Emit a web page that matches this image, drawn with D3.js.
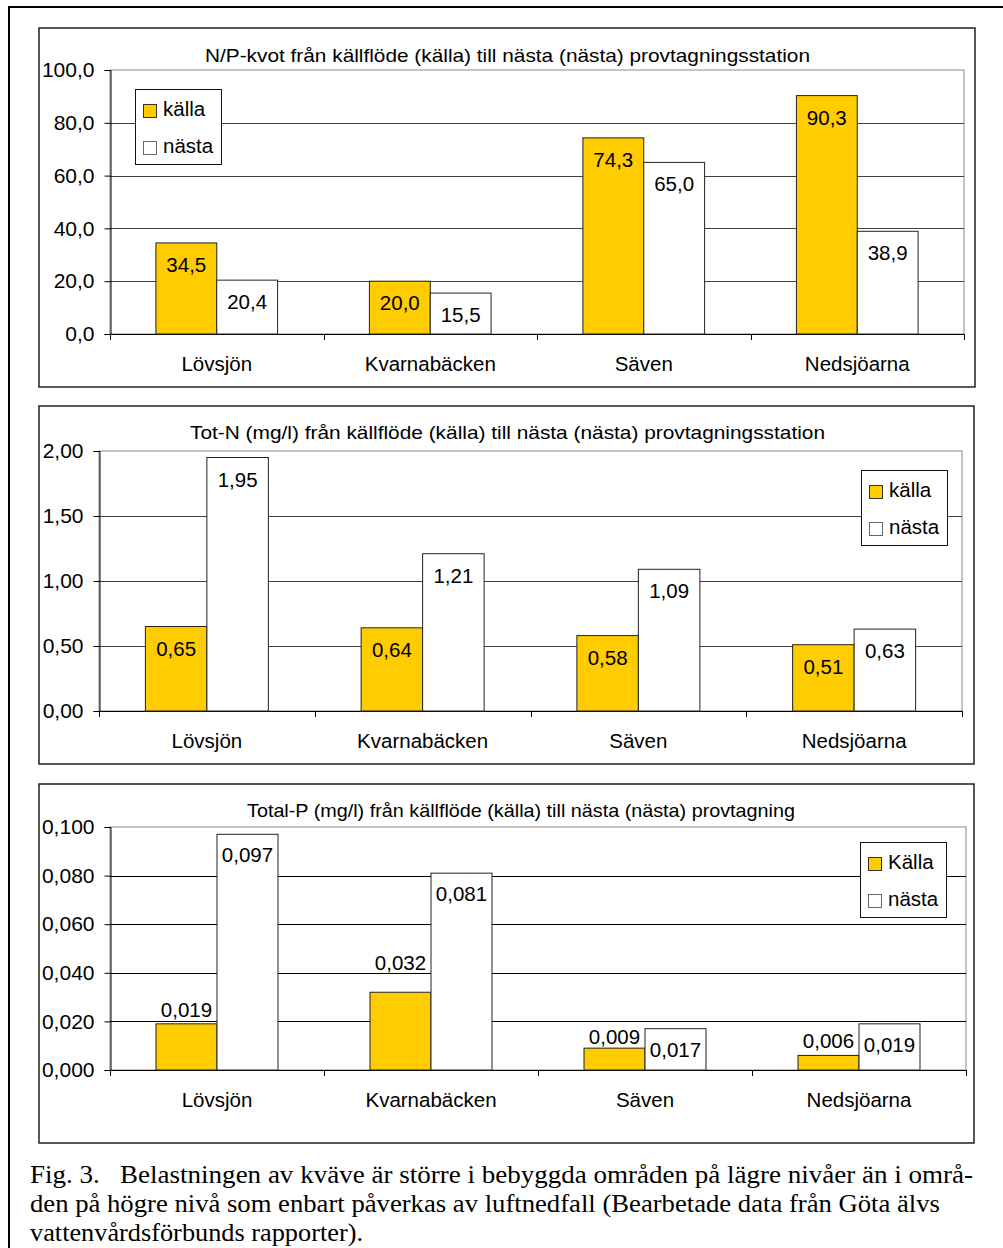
<!DOCTYPE html>
<html>
<head>
<meta charset="utf-8">
<script src="https://cdn.jsdelivr.net/npm/d3@7"></script>
<style>
  html, body { margin: 0; padding: 0; background: #fff; }
  svg { display: block; }
  text { font-family: "Liberation Sans", Arial, sans-serif; fill: #000; }
  .cap { font-family: "Liberation Serif", "Times New Roman", serif; }
</style>
</head>
<body>
<svg id="fig" width="1003" height="1248"></svg>
<script>
// ---------------- data ----------------
const categories = ["Lövsjön", "Kvarnabäcken", "Säven", "Nedsjöarna"];
const seriesNames = ["källa", "nästa"];
const seriesNamesP = ["Källa", "nästa"];

const npKalla = [34.5, 20.0, 74.3, 90.3];
const npNasta = [20.4, 15.5, 65.0, 38.9];
const npTicks = [0, 20, 40, 60, 80, 100];

const totNKalla = [0.65, 0.64, 0.58, 0.51];
const totNNasta = [1.95, 1.21, 1.09, 0.63];
const totNTicks = [0, 0.5, 1.0, 1.5, 2.0];

const totPKalla = [0.019, 0.032, 0.009, 0.006];
const totPNasta = [0.097, 0.081, 0.017, 0.019];
const totPTicks = [0, 0.02, 0.04, 0.06, 0.08, 0.10];

const titles = [
  "N/P-kvot från källflöde (källa) till nästa (nästa) provtagningsstation",
  "Tot-N (mg/l) från källflöde (källa) till nästa (nästa) provtagningsstation",
  "Total-P (mg/l) från källflöde (källa) till nästa (nästa) provtagning"
];
const captionLines = [
  "Fig. 3.   Belastningen av kväve är större i bebyggda områden på lägre nivåer än i områ-",
  "den på högre nivå som enbart påverkas av luftnedfall (Bearbetade data från Göta älvs",
  "vattenvårdsförbunds rapporter)."
];

// ---------------- drawing ----------------
const svg = d3.select("#fig");
const sv = d3.formatLocale({ decimal: ",", thousands: " ", grouping: [3], currency: ["", ""] });
const KALLA = "#FFCC00";

svg.append("rect").attr("x", 0).attr("y", 0).attr("width", 1003).attr("height", 1248).attr("fill", "#fff");
// outer page border
svg.append("rect").attr("x", 9).attr("y", 7).attr("width", 1010).attr("height", 1260)
  .attr("fill", "none").attr("stroke", "#000").attr("stroke-width", 2);

const charts = [
  { frame: [39, 28, 975, 387], plot: [110, 70, 964, 334], ticks: npTicks, max: 100, fmt: ",.1f",
    kalla: npKalla, nasta: npNasta, title: titles[0], titleX: 507.5, titleY: 62, titleW: 605,
    legend: [135, 89], names: seriesNames, grid: "#404040", outsideKalla: false, lift: null },
  { frame: [39, 406, 974, 764], plot: [99, 451, 962, 711], ticks: totNTicks, max: 2.0, fmt: ",.2f",
    kalla: totNKalla, nasta: totNNasta, title: titles[1], titleX: 507.5, titleY: 439, titleW: 635,
    legend: [861, 470], names: seriesNames, grid: "#404040", outsideKalla: false, lift: null },
  { frame: [39, 784, 974, 1143], plot: [110, 827, 966, 1070], ticks: totPTicks, max: 0.10, fmt: ",.3f",
    kalla: totPKalla, nasta: totPNasta, title: titles[2], titleX: 521, titleY: 817, titleW: 548,
    legend: [860, 842], names: seriesNamesP, grid: "#000", outsideKalla: true, lift: [7, 22, 4, 7] }
];

charts.forEach(c => {
  const g = svg.append("g");
  const [fx0, fy0, fx1, fy1] = c.frame;
  const [px0, py0, px1, py1] = c.plot;

  g.append("rect").attr("x", fx0).attr("y", fy0).attr("width", fx1 - fx0).attr("height", fy1 - fy0)
    .attr("fill", "#fff").attr("stroke", "#111").attr("stroke-width", 1.4);

  const x = d3.scaleBand().domain(categories).range([px0, px1]).paddingInner(0).paddingOuter(0);
  const y = d3.scaleLinear().domain([0, c.max]).range([py1, py0]);
  const bw = x.bandwidth();
  const groupW = bw * 0.57;
  const xs = d3.scaleBand().domain(["k", "n"]).range([0, groupW]);
  const fmt = sv.format(c.fmt);

  // plot area border (top/right gray)
  g.append("rect").attr("x", px0).attr("y", py0).attr("width", px1 - px0).attr("height", py1 - py0)
    .attr("fill", "none").attr("stroke", "#8a8a8a").attr("stroke-width", 1);

  // gridlines
  g.append("g").selectAll("line").data(c.ticks.filter(t => t > 0 && t < c.max)).join("line")
    .attr("x1", px0).attr("x2", px1).attr("y1", d => Math.round(y(d)) + 0.5).attr("y2", d => Math.round(y(d)) + 0.5)
    .attr("stroke", c.grid).attr("stroke-width", 1);

  // y axis
  const yAxis = d3.axisLeft(y).tickValues(c.ticks).tickSize(6).tickPadding(10).tickFormat(fmt);
  const ya = g.append("g").attr("transform", `translate(${px0 + 0.5},0)`).call(yAxis);
  ya.select(".domain").attr("stroke", "#000");
  ya.selectAll(".tick line").attr("stroke", "#000");
  ya.selectAll(".tick text").attr("font-size", 21).attr("font-family", "Liberation Sans, Arial, sans-serif").attr("fill", "#000");

  // x axis (category boundary ticks)
  const bounds = categories.map(d => x(d)).concat([px1]);
  g.append("line").attr("x1", px0).attr("x2", px1).attr("y1", py1 + 0.5).attr("y2", py1 + 0.5).attr("stroke", "#000");
  g.append("g").selectAll("line").data(bounds).join("line")
    .attr("x1", d => Math.round(d) + 0.5).attr("x2", d => Math.round(d) + 0.5)
    .attr("y1", py1).attr("y2", py1 + 6).attr("stroke", "#000");
  g.append("g").selectAll("text").data(categories).join("text")
    .attr("x", d => x(d) + bw / 2).attr("y", py1 + 37).attr("text-anchor", "middle")
    .attr("font-size", 20.5).text(d => d);

  // bars
  const rows = categories.map((cat, i) => ({ cat, i, k: c.kalla[i], n: c.nasta[i] }));
  const grp = g.append("g").selectAll("g").data(rows).join("g")
    .attr("transform", d => `translate(${x(d.cat) + (bw - groupW) / 2},0)`);
  const bars = grp.selectAll("g").data(d => [{ s: "k", v: d.k, i: d.i }, { s: "n", v: d.n, i: d.i }]).join("g");
  bars.append("rect")
    .attr("x", d => xs(d.s)).attr("y", d => y(d.v)).attr("width", xs.bandwidth()).attr("height", d => y(0) - y(d.v))
    .attr("fill", d => d.s === "k" ? KALLA : "#fff").attr("stroke", "#222").attr("stroke-width", 1);
  bars.append("text")
    .attr("x", d => xs(d.s) + xs.bandwidth() / 2)
    .attr("y", d => (c.outsideKalla && d.s === "k") ? y(d.v) - c.lift[d.i] : y(d.v) + (c.outsideKalla ? 28 : 29))
    .attr("text-anchor", "middle").attr("font-size", 20.5).text(d => fmt(d.v));

  // title
  g.append("text").attr("x", c.titleX).attr("y", c.titleY).attr("text-anchor", "middle")
    .attr("font-size", 19).attr("textLength", c.titleW).attr("lengthAdjust", "spacingAndGlyphs").text(c.title);

  // legend
  const [lx, ly] = c.legend;
  const lg = g.append("g").attr("transform", `translate(${lx},${ly})`);
  lg.append("rect").attr("x", 0.5).attr("y", 0.5).attr("width", 86).attr("height", 75)
    .attr("fill", "#fff").attr("stroke", "#111").attr("stroke-width", 1);
  const items = lg.selectAll("g").data(c.names).join("g")
    .attr("transform", (d, i) => `translate(0,${i * 37})`);
  items.append("rect").attr("x", 8.5).attr("y", 15.5).attr("width", 13).attr("height", 13)
    .attr("fill", (d, i) => i === 0 ? KALLA : "#fff").attr("stroke", (d, i) => i === 0 ? "#333" : "#666");
  items.append("text").attr("x", 28).attr("y", 27).attr("font-size", 20.5).text(d => d);
});

// caption
const capW = [943, 910, 333];
svg.append("g").selectAll("text").data(captionLines).join("text")
  .attr("class", "cap").attr("x", 30).attr("y", (d, i) => 1183 + i * 29)
  .attr("font-size", 24.5).attr("textLength", (d, i) => capW[i]).attr("lengthAdjust", "spacingAndGlyphs")
  .attr("xml:space", "preserve").style("white-space", "pre").text(d => d);
</script>
</body>
</html>
